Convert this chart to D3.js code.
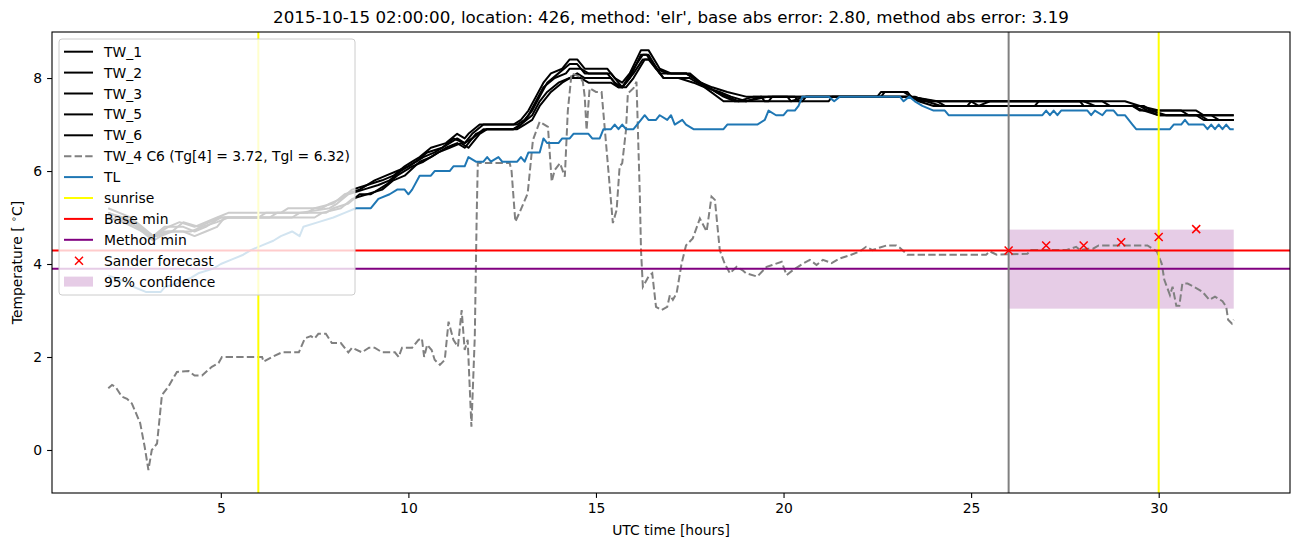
<!DOCTYPE html>
<html><head><meta charset="utf-8">
<script src="https://cdn.jsdelivr.net/npm/d3@7"></script>
<style>
html,body{margin:0;padding:0;background:#fff;}
text{font-family:"DejaVu Sans",sans-serif;fill:#000;}
</style></head>
<body><svg id="c" width="1302" height="547"></svg>
<script>
// ---------- data ----------
const titleText = "2015-10-15 02:00:00, location: 426, method: 'elr', base abs error: 2.80, method abs error: 3.19";
const xLabel = "UTC time [hours]";
const xTicks = [5, 10, 15, 20, 25, 30];
const yTicks = [0, 2, 4, 6, 8];
const legendLabels = ["TW_1","TW_2","TW_3","TW_5","TW_6","TW_4 C6 (Tg[4] = 3.72, Tgl = 6.32)","TL","sunrise","Base min","Method min","Sander forecast","95% confidence"];

const tw1 = [[2,5.2],[2.3,5.1],[2.6,5.0],[2.9,4.8],[3.2,4.6],[3.4,4.7],[3.6,4.8],[3.9,4.9],[4.3,4.8],[4.6,4.9],[4.9,5.0],[5.2,5.1],[6.6,5.1],[6.8,5.2],[7.7,5.2],[7.9,5.3],[8.2,5.4],[8.5,5.6],[8.9,5.7],[9.3,5.8],[9.6,5.9],[9.9,6.1],[10.1,6.2],[10.3,6.3],[10.6,6.5],[11.0,6.6],[11.3,6.8],[11.5,6.7],[11.6,6.8],[11.9,7.0],[12.8,7.0],[13.0,7.1],[13.2,7.3],[13.4,7.6],[13.6,7.9],[13.8,8.1],[14.1,8.2],[14.3,8.4],[14.5,8.4],[14.7,8.2],[15.3,8.2],[15.5,8.0],[15.7,7.9],[15.9,8.1],[16.2,8.6],[16.4,8.6],[16.7,8.2],[17.0,8.1],[17.4,8.1],[17.8,7.9],[18.1,7.8],[18.5,7.7],[19.0,7.6],[22.6,7.6],[22.7,7.7],[23.3,7.7],[23.4,7.6],[24.0,7.5],[29.1,7.5],[29.5,7.4],[30.0,7.3],[31.0,7.3],[31.2,7.2],[32,7.2]];
const tw2 = [[2,5.1],[2.4,5.0],[2.7,4.9],[3.0,4.7],[3.2,4.6],[3.5,4.8],[4.0,4.8],[4.3,4.7],[4.6,4.8],[5.0,5.0],[6.9,5.0],[7.1,5.1],[7.9,5.2],[8.1,5.3],[8.4,5.5],[8.8,5.6],[9.2,5.7],[9.5,5.8],[9.8,6.0],[10.2,6.2],[10.5,6.4],[10.9,6.5],[11.2,6.7],[11.5,6.6],[11.7,6.8],[12.0,7.0],[12.9,7.0],[13.1,7.1],[13.3,7.3],[13.5,7.6],[13.7,7.9],[14.0,8.1],[14.3,8.3],[14.5,8.3],[14.7,8.1],[15.4,8.1],[15.6,7.9],[15.7,7.8],[16.0,8.2],[16.25,8.5],[16.4,8.5],[16.7,8.1],[17.4,8.1],[17.6,8.0],[17.9,7.8],[18.3,7.7],[18.6,7.6],[19.0,7.5],[19.6,7.6],[23.4,7.6],[23.7,7.5],[25.0,7.5],[25.2,7.4],[25.5,7.5],[28.0,7.5],[28.3,7.4],[29.5,7.4],[29.7,7.3],[30.0,7.2],[31.4,7.2],[31.6,7.1],[32,7.1]];
const tw3 = [[2,5.0],[2.5,4.9],[2.8,4.8],[3.1,4.6],[3.3,4.6],[3.6,4.7],[4.2,4.7],[4.5,4.8],[4.9,4.9],[5.2,5.0],[7.5,5.0],[7.7,5.1],[8.2,5.2],[8.5,5.4],[8.9,5.5],[9.3,5.6],[9.6,5.8],[9.9,5.9],[10.3,6.2],[10.6,6.3],[11.0,6.5],[11.3,6.6],[11.5,6.5],[11.8,6.8],[12.1,6.9],[12.8,6.9],[13.0,7.0],[13.3,7.2],[13.5,7.5],[13.7,7.7],[14.0,7.9],[14.3,8.0],[14.5,8.1],[14.7,8.0],[15.4,8.0],[15.6,7.8],[15.7,7.8],[16.0,8.1],[16.25,8.4],[16.4,8.4],[16.8,8.0],[17.5,8.0],[17.7,7.9],[18.0,7.8],[18.4,7.6],[18.7,7.5],[19.6,7.5],[19.7,7.6],[20.3,7.6],[20.4,7.5],[21.2,7.5],[21.3,7.6],[23.5,7.6],[23.8,7.5],[24.2,7.4],[26.7,7.4],[26.8,7.5],[28.5,7.5],[28.7,7.4],[29.6,7.4],[29.8,7.3],[30.2,7.2],[31.0,7.2],[31.2,7.1],[32,7.1]];
const tw5 = [[2,5.1],[2.3,5.0],[2.6,4.9],[2.9,4.7],[3.2,4.5],[3.4,4.6],[3.7,4.7],[4.0,4.9],[4.4,4.8],[4.7,4.9],[5.0,5.0],[6.0,5.0],[6.2,5.1],[7.3,5.1],[7.5,5.2],[8.0,5.3],[8.3,5.5],[8.7,5.6],[9.1,5.8],[9.4,5.9],[9.7,6.0],[10.0,6.1],[10.4,6.3],[10.7,6.4],[11.1,6.6],[11.3,6.7],[11.5,6.6],[11.7,6.7],[12.0,6.9],[12.8,6.9],[13.0,7.0],[13.2,7.2],[13.4,7.5],[13.6,7.8],[13.9,8.0],[14.2,8.1],[14.3,8.2],[14.6,8.2],[14.8,8.1],[15.3,8.1],[15.5,7.9],[15.7,7.8],[15.9,8.0],[16.2,8.5],[16.35,8.5],[16.6,8.2],[16.9,8.1],[17.5,8.1],[17.8,7.9],[18.2,7.7],[18.5,7.6],[18.8,7.5],[19.2,7.6],[20.1,7.6],[20.2,7.5],[20.6,7.6],[22.5,7.6],[22.6,7.7],[23.2,7.7],[23.4,7.6],[24.1,7.5],[24.3,7.4],[24.9,7.4],[25.0,7.5],[27.9,7.5],[28.0,7.4],[29.3,7.4],[29.5,7.3],[30.6,7.3],[30.8,7.2],[32,7.2]];
const tw6 = [[2,5.0],[2.4,4.9],[2.9,4.7],[3.2,4.6],[3.5,4.7],[4.0,4.7],[4.3,4.6],[4.6,4.7],[4.9,4.8],[5.1,5.0],[6.3,5.0],[6.5,5.1],[7.8,5.1],[8.0,5.2],[8.4,5.3],[8.7,5.5],[9.0,5.5],[9.4,5.7],[9.7,5.9],[10.1,6.1],[10.4,6.2],[10.8,6.4],[11.1,6.5],[11.4,6.6],[11.6,6.5],[11.9,6.8],[12.1,6.9],[12.9,6.9],[13.1,7.0],[13.3,7.1],[13.5,7.4],[13.8,7.7],[14.1,7.9],[14.3,8.0],[14.6,8.0],[14.8,7.9],[15.4,7.9],[15.6,7.8],[15.8,7.8],[16.0,8.0],[16.3,8.4],[16.45,8.4],[16.8,8.0],[17.2,8.0],[17.6,7.9],[17.9,7.8],[18.4,7.5],[19.0,7.5],[19.4,7.6],[19.5,7.5],[20.5,7.5],[20.6,7.6],[23.4,7.6],[23.6,7.5],[24.0,7.4],[29.3,7.4],[29.6,7.3],[30.0,7.2],[31.1,7.2],[31.3,7.1],[32,7.1]];
const tw4 = [[2.0,1.33],[2.1,1.4],[2.2,1.35],[2.36,1.15],[2.5,1.1],[2.63,1.0],[2.85,0.58],[2.97,0.07],[3.07,-0.43],[3.16,0.0],[3.3,0.14],[3.43,1.18],[3.6,1.36],[3.83,1.68],[4.14,1.7],[4.3,1.6],[4.5,1.6],[4.76,1.79],[4.94,1.87],[5.03,2.0],[6.1,2.0],[6.14,1.9],[6.36,2.0],[6.63,2.1],[7.08,2.1],[7.24,2.4],[7.4,2.45],[7.5,2.4],[7.6,2.5],[7.8,2.5],[7.96,2.3],[8.2,2.3],[8.4,2.1],[8.5,2.2],[8.76,2.1],[8.95,2.2],[9.1,2.2],[9.3,2.1],[9.64,2.1],[9.74,2.0],[9.83,2.2],[10.1,2.2],[10.27,2.37],[10.36,2.4],[10.42,2.0],[10.5,2.26],[10.62,2.15],[10.7,1.94],[10.84,1.83],[10.97,1.94],[11.07,2.76],[11.2,2.37],[11.32,2.22],[11.42,3.01],[11.5,2.15],[11.58,2.37],[11.68,0.5],[11.77,2.44],[11.82,5.02],[11.85,6.17],[12.7,6.17],[12.75,6.0],[12.85,4.91],[12.97,5.12],[13.18,5.52],[13.32,6.67],[13.5,7.06],[13.72,6.95],[13.82,5.77],[13.9,6.02],[14.04,6.17],[14.17,5.88],[14.25,7.3],[14.35,8.1],[14.57,8.03],[14.65,7.92],[14.7,7.6],[14.75,6.88],[14.83,7.78],[15.0,7.7],[15.15,7.7],[15.3,6.3],[15.45,4.88],[15.55,5.16],[15.63,6.09],[15.7,6.17],[15.8,6.88],[15.85,7.67],[16.0,7.78],[16.08,7.92],[16.17,5.45],[16.2,4.3],[16.25,3.51],[16.4,3.73],[16.5,3.8],[16.6,3.08],[16.75,3.01],[16.9,3.08],[16.97,3.33],[17.05,3.23],[17.15,3.37],[17.28,4.0],[17.4,4.4],[17.58,4.55],[17.77,4.98],[17.95,4.7],[18.08,5.45],[18.17,5.38],[18.3,4.3],[18.43,4.01],[18.57,3.8],[18.75,3.94],[18.9,3.87],[19.0,3.8],[19.3,3.73],[19.55,3.94],[19.7,3.98],[19.95,4.05],[20.08,3.76],[20.25,3.87],[20.5,4.0],[20.7,4.09],[20.88,3.98],[21.05,4.09],[21.28,4.02],[21.5,4.12],[21.77,4.19],[22.03,4.27],[22.2,4.37],[22.37,4.3],[22.55,4.35],[22.75,4.4],[23.0,4.4],[23.1,4.35],[23.3,4.2],[25.4,4.2],[25.5,4.27],[25.68,4.2],[26.5,4.22],[26.6,4.3],[27.55,4.3],[27.8,4.37],[27.9,4.3],[28.1,4.33],[28.25,4.33],[28.4,4.4],[29.7,4.4],[29.95,4.27],[30.08,4.01],[30.15,3.66],[30.3,3.33],[30.37,3.51],[30.47,3.1],[30.55,3.1],[30.63,3.58],[30.77,3.58],[31.0,3.48],[31.17,3.4],[31.35,3.23],[31.5,3.3],[31.7,3.2],[31.8,3.08],[31.85,2.8],[31.95,2.72],[32.0,2.8]];
const tl = [[2,3.75],[2.2,3.7],[2.5,3.6],[2.7,3.5],[3.0,3.4],[3.4,3.4],[3.5,3.5],[3.9,3.6],[4.2,3.7],[4.4,3.8],[4.8,3.9],[5.0,4.0],[5.3,4.1],[5.6,4.2],[5.8,4.3],[6.1,4.4],[6.4,4.5],[6.6,4.6],[6.9,4.7],[7.1,4.6],[7.2,4.8],[7.6,4.9],[8.0,5.0],[8.3,5.1],[8.6,5.2],[9.0,5.2],[9.2,5.4],[9.5,5.5],[9.7,5.6],[9.9,5.6],[10.0,5.5],[10.1,5.6],[10.3,5.9],[10.6,5.9],[10.7,6.0],[11.1,6.0],[11.2,6.1],[11.5,6.1],[11.6,6.3],[11.8,6.2],[12.0,6.2],[12.1,6.3],[12.2,6.2],[12.4,6.3],[12.5,6.2],[12.9,6.2],[13.0,6.3],[13.1,6.2],[13.2,6.4],[13.5,6.4],[13.6,6.7],[13.7,6.6],[14.0,6.6],[14.1,6.7],[14.3,6.7],[14.4,6.8],[14.8,6.8],[14.9,6.7],[15.1,6.7],[15.2,6.9],[15.4,6.9],[15.5,7.0],[15.6,6.9],[15.7,7.0],[15.8,6.9],[16.0,6.9],[16.2,7.1],[16.3,7.2],[16.4,7.1],[16.6,7.1],[16.7,7.2],[16.9,7.1],[17.0,7.2],[17.1,7.0],[17.3,7.1],[17.4,7.0],[17.6,6.9],[18.4,6.9],[18.5,7.0],[19.3,7.0],[19.5,7.1],[19.6,7.3],[19.8,7.2],[20.0,7.2],[20.1,7.3],[20.3,7.3],[20.4,7.4],[20.5,7.6],[21.2,7.6],[21.35,7.5],[21.5,7.6],[23.1,7.6],[23.2,7.5],[23.35,7.6],[23.5,7.5],[23.7,7.4],[24.0,7.3],[24.3,7.3],[24.4,7.2],[26.9,7.2],[27.0,7.3],[27.1,7.2],[27.2,7.3],[27.3,7.2],[27.4,7.3],[28.1,7.3],[28.2,7.2],[28.3,7.3],[28.5,7.2],[28.6,7.3],[28.8,7.3],[28.9,7.2],[29.1,7.2],[29.2,7.1],[29.3,7.0],[29.4,6.9],[30.3,6.9],[30.4,7.0],[30.6,7.0],[30.7,7.1],[30.8,7.0],[31.2,7.0],[31.3,6.9],[31.4,7.0],[31.5,6.9],[31.6,7.0],[31.7,6.9],[31.8,7.0],[31.9,6.9],[32,6.9]];
const sunriseHours = [6, 30];
const forecastTime = [26];
const baseMin = 4.29;
const methodMin = 3.90;
const sanderHours = [26, 27, 28, 29, 30, 31];
const sanderValues = [4.29, 4.40, 4.40, 4.47, 4.58, 4.75];
const confHours = [26, 32];
const confLow = 3.04, confHigh = 4.74;

// ---------- layout ----------
const AX = {l:52, r:1290, t:32, b:493};
const svg = d3.select("#c");
const x = d3.scaleLinear().domain([0.5, 33.5]).range([AX.l, AX.r]);
const y = d3.scaleLinear().domain([-0.925, 8.99]).range([AX.b, AX.t]);

svg.append("defs").append("clipPath").attr("id","clip")
  .append("rect").attr("x",AX.l).attr("y",AX.t).attr("width",AX.r-AX.l).attr("height",AX.b-AX.t);
const plot = svg.append("g").attr("clip-path","url(#clip)");

// confidence patch (behind lines)
plot.append("rect")
  .attr("x", x(confHours[0])).attr("width", x(confHours[1]) - x(confHours[0]))
  .attr("y", y(confHigh)).attr("height", y(confLow) - y(confHigh))
  .attr("fill", "purple").attr("fill-opacity", 0.2);

const line = d3.line().x(d => x(d[0])).y(d => y(d[1]));
const LW = 2;
[tw1, tw2, tw3, tw5, tw6].forEach(s => {
  plot.append("path").datum(s).attr("d", line).attr("fill","none")
    .attr("stroke","#000").attr("stroke-width",LW).attr("stroke-linejoin","round");
});
plot.append("path").datum(tw4).attr("d", line).attr("fill","none")
  .attr("stroke","#808080").attr("stroke-width",LW).attr("stroke-dasharray","7.4,3.2");
plot.append("path").datum(tl).attr("d", line).attr("fill","none")
  .attr("stroke","#1f77b4").attr("stroke-width",LW).attr("stroke-linejoin","round");

sunriseHours.forEach(h => {
  plot.append("line").attr("x1",x(h)).attr("x2",x(h)).attr("y1",AX.t).attr("y2",AX.b)
    .attr("stroke","yellow").attr("stroke-width",LW);
});
plot.append("line").attr("x1",AX.l).attr("x2",AX.r).attr("y1",y(baseMin)).attr("y2",y(baseMin))
  .attr("stroke","red").attr("stroke-width",LW);
plot.append("line").attr("x1",AX.l).attr("x2",AX.r).attr("y1",y(methodMin)).attr("y2",y(methodMin))
  .attr("stroke","purple").attr("stroke-width",LW);
forecastTime.forEach(h => {
  plot.append("line").attr("x1",x(h)).attr("x2",x(h)).attr("y1",AX.t).attr("y2",AX.b)
    .attr("stroke","#808080").attr("stroke-width",LW);
});
const MS = 4;
sanderHours.forEach((h,i) => {
  const cx = x(h), cy = y(sanderValues[i]);
  plot.append("path").attr("d",`M${cx-MS},${cy-MS}L${cx+MS},${cy+MS}M${cx-MS},${cy+MS}L${cx+MS},${cy-MS}`)
    .attr("stroke","red").attr("stroke-width",1.5).attr("fill","none");
});

// frame
svg.append("rect").attr("x",AX.l).attr("y",AX.t).attr("width",AX.r-AX.l).attr("height",AX.b-AX.t)
  .attr("fill","none").attr("stroke","#000").attr("stroke-width",1.1);

// axes
const FS = 13.9;
const gx = svg.append("g").attr("transform",`translate(0,${AX.b})`)
  .call(d3.axisBottom(x).tickValues(xTicks).tickSize(4.9).tickPadding(4.9));
gx.select(".domain").remove();
gx.selectAll("line").attr("stroke","#000").attr("stroke-width",1.1);
gx.selectAll("text").attr("font-size",FS).attr("font-family","DejaVu Sans").attr("fill","#000");
const gy = svg.append("g").attr("transform",`translate(${AX.l},0)`)
  .call(d3.axisLeft(y).tickValues(yTicks).tickSize(4.9).tickPadding(4.9));
gy.select(".domain").remove();
gy.selectAll("line").attr("stroke","#000").attr("stroke-width",1.1);
gy.selectAll("text").attr("font-size",FS).attr("font-family","DejaVu Sans").attr("fill","#000");

function txt(px, py, s, size, anchor) {
  return svg.append("text").attr("x",px).attr("y",py)
    .attr("font-size", size).attr("text-anchor", anchor || "start").attr("fill","#000").text(s);
}
txt((AX.l+AX.r)/2, 23, titleText, 16.7, "middle");
txt((AX.l+AX.r)/2, 535, xLabel, FS, "middle");
// y label (rotated)
const yl = svg.append("text").attr("transform",`translate(22,${(AX.t+AX.b)/2}) rotate(-90)`)
  .attr("font-size", FS).attr("text-anchor","middle").attr("fill","#000");
yl.append("tspan").text("Temperature [ ");
yl.append("tspan").attr("font-size",9.7).attr("dy",-5).text("∘");
yl.append("tspan").attr("dy",5).text("C]");

// legend
const LG = {x:59, y:39, w:296, h:256};
const lg = svg.append("g");
lg.append("rect").attr("x",LG.x).attr("y",LG.y).attr("width",LG.w).attr("height",LG.h)
  .attr("rx",3).attr("fill","#fff").attr("fill-opacity",0.8).attr("stroke","#cccccc").attr("stroke-width",1);
const legendStyles = [
  {t:"line", c:"#000"},{t:"line", c:"#000"},{t:"line", c:"#000"},{t:"line", c:"#000"},{t:"line", c:"#000"},
  {t:"line", c:"#808080", dash:"7.4,3.2"},{t:"line", c:"#1f77b4"},{t:"line", c:"yellow"},
  {t:"line", c:"red"},{t:"line", c:"purple"},{t:"marker", c:"red"},{t:"patch", c:"purple"}];
legendLabels.forEach((lab, i) => {
  const cy = 51.7 + i * 20.9;
  const st = legendStyles[i];
  if (st.t === "line") {
    lg.append("line").attr("x1",64).attr("x2",93).attr("y1",cy).attr("y2",cy)
      .attr("stroke",st.c).attr("stroke-width",LW).attr("stroke-dasharray", st.dash || null);
  } else if (st.t === "marker") {
    const cx = 79;
    lg.append("path").attr("d",`M${cx-MS},${cy-MS}L${cx+MS},${cy+MS}M${cx-MS},${cy+MS}L${cx+MS},${cy-MS}`)
      .attr("stroke","red").attr("stroke-width",1.5);
  } else {
    lg.append("rect").attr("x",64).attr("y",cy-5).attr("width",29).attr("height",10)
      .attr("fill","purple").attr("fill-opacity",0.2);
  }
  txt(104, cy + 5, lab, FS, "start");
});
</script></body></html>
